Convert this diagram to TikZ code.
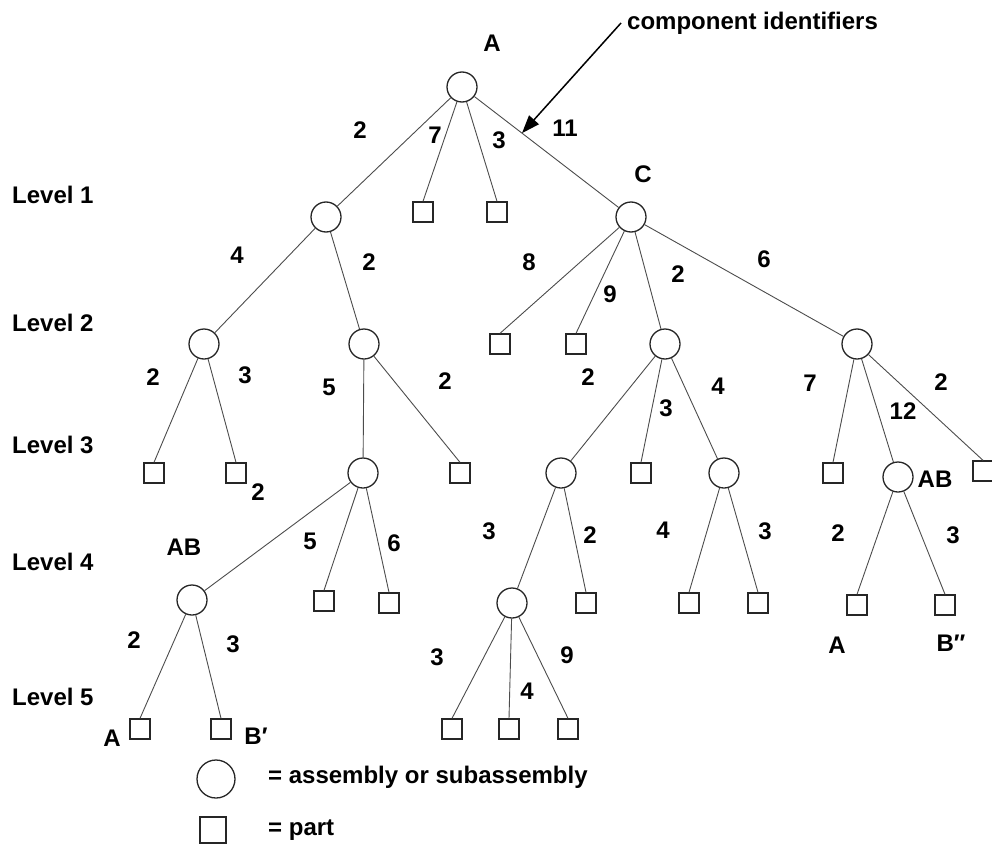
\documentclass[tikz,border=0pt]{standalone}
\usepackage{fontspec}
\setmainfont{Liberation Sans}
\usetikzlibrary{arrows.meta,calc}
\begin{document}
\begin{tikzpicture}[x=1pt,y=-1pt,
  lab/.style={font=\bfseries\fontsize{24}{27}\selectfont, inner sep=0pt},
  asm/.style={circle, draw=black!85, line width=1.3pt, minimum size=30pt, inner sep=0pt},
  prt/.style={rectangle, draw=black!85, line width=1.3pt, minimum size=20pt, inner sep=0pt},
  edge/.style={draw=black!70, line width=0.9pt}]
\useasboundingbox (0,0) rectangle (992,848);
% level labels
\node[lab, anchor=west] (lv1) at (12,195) {Level 1};
\node[lab, anchor=west] (lv2) at (12,323) {Level 2};
\node[lab, anchor=west] (lv3) at (12,445) {Level 3};
\node[lab, anchor=west] (lv4) at (12,562) {Level 4};
\node[lab, anchor=west] (lv5) at (12,697) {Level 5};
% level 0/1
\node[asm] (A) at (462,87) {};
\node[lab] (tA) at (492,43) {A};
\node[asm] (L1a) at (326,217) {};
\node[prt] (p1) at (423,212) {};
\node[prt] (p2) at (497,212) {};
\node[asm] (C) at (631,217) {};
\node[lab] (tC) at (643,174) {C};
\draw[edge] (A) -- (L1a);
\draw[edge] (A) -- (p1.north);
\draw[edge] (A) -- (p2.north);
\draw[edge] (A) -- (C);
\node[lab] (e1) at (360,130) {2};
\node[lab] (e2) at (435,135) {7};
\node[lab] (e3) at (499,140) {3};
\node[lab] (e4) at (565,128) {11};
% level 2
\node[asm] (L2a) at (204,344) {};
\node[asm] (L2b) at (364,344) {};
\draw[edge] (L1a) -- (L2a);
\draw[edge] (L1a) -- (L2b);
\node[lab] (e5) at (237,255) {4};
\node[lab] (e6) at (369,262) {2};
\node[prt] (p3) at (500,344) {};
\node[prt] (p4) at (576,344) {};
\node[asm] (L2c) at (665,344) {};
\node[asm] (L2d) at (857,344) {};
\draw[edge] (C) -- (p3.north);
\draw[edge] (C) -- (p4.north);
\draw[edge] (C) -- (L2c);
\draw[edge] (C) -- (L2d);
\node[lab] (e7) at (529,262) {8};
\node[lab] (e8) at (610,294) {9};
\node[lab] (e9) at (678,274) {2};
\node[lab] (e10) at (764,259) {6};
% level 3
\node[prt] (p5) at (154,473) {};
\node[prt] (p6) at (236,473) {};
\draw[edge] (L2a) -- (p5.north);
\draw[edge] (L2a) -- (p6.north);
\node[lab] (e11) at (153,377) {2};
\node[lab] (e12) at (245,375) {3};
\node[lab] (e13) at (258,492) {2};
\node[asm] (L3a) at (363,473) {};
\node[prt] (p7) at (460,473) {};
\draw[edge] (L2b) -- (L3a);
\draw[edge] (L2b) -- (p7.north);
\node[lab] (e14) at (329,387) {5};
\node[lab] (e15) at (445,381) {2};
\node[asm] (L3b) at (561,473) {};
\node[prt] (p8) at (641,473) {};
\node[asm] (L3c) at (724,473) {};
\draw[edge] (L2c) -- (L3b);
\draw[edge] (L2c) -- (p8.north);
\draw[edge] (L2c) -- (L3c);
\node[lab] (e16) at (588,377) {2};
\node[lab] (e17) at (666,408) {3};
\node[lab] (e18) at (718,386) {4};
\node[prt] (p9) at (833,473) {};
\node[asm] (L3d) at (898,477) {};
\node[prt] (p10) at (983,471) {};
\draw[edge] (L2d) -- (p9.north);
\draw[edge] (L2d) -- (L3d);
\draw[edge] (L2d) -- (p10.north);
\node[lab] (e19) at (810,383) {7};
\node[lab] (e20) at (903,411) {12};
\node[lab] (e21) at (941,382) {2};
\node[lab] (tAB2) at (935,479) {AB};
% level 4
\node[asm] (L4a) at (192,600) {};
\node[prt] (p11) at (324,601) {};
\node[prt] (p12) at (389,603) {};
\draw[edge] (L3a) -- (L4a);
\draw[edge] (L3a) -- (p11.north);
\draw[edge] (L3a) -- (p12.north);
\node[lab] (tAB1) at (184,547) {AB};
\node[lab] (e22) at (310,541) {5};
\node[lab] (e23) at (394,543) {6};
\node[asm] (L4b) at (512,603) {};
\node[prt] (p13) at (586,603) {};
\draw[edge] (L3b) -- (L4b);
\draw[edge] (L3b) -- (p13.north);
\node[lab] (e24) at (489,531) {3};
\node[lab] (e25) at (590,535) {2};
\node[prt] (p14) at (689,603) {};
\node[prt] (p15) at (758,603) {};
\draw[edge] (L3c) -- (p14.north);
\draw[edge] (L3c) -- (p15.north);
\node[lab] (e26) at (663,530) {4};
\node[lab] (e27) at (765,531) {3};
\node[prt] (p16) at (857,605) {};
\node[prt] (p17) at (945,605) {};
\draw[edge] (L3d) -- (p16.north);
\draw[edge] (L3d) -- (p17.north);
\node[lab] (e28) at (838,533) {2};
\node[lab] (e29) at (953,535) {3};
\node[lab] (tA3) at (837,645) {A};
\node[lab] (tB3) at (951,643) {B″};
% level 5
\node[prt] (p18) at (140,729) {};
\node[prt] (p19) at (221,729) {};
\draw[edge] (L4a) -- (p18.north);
\draw[edge] (L4a) -- (p19.north);
\node[lab] (e30) at (134,640) {2};
\node[lab] (e31) at (233,644) {3};
\node[lab] (tA2) at (112,738) {A};
\node[lab] (tB2) at (256,736) {B′};
\node[prt] (p20) at (452,729) {};
\node[prt] (p21) at (509,729) {};
\node[prt] (p22) at (568,729) {};
\draw[edge] (L4b) -- (p20.north);
\draw[edge] (L4b) -- (p21.north);
\draw[edge] (L4b) -- (p22.north);
\node[lab] (e32) at (437,657) {3};
\node[lab] (e33) at (527,691) {4};
\node[lab] (e34) at (567,655) {9};
% annotation
\node[lab, anchor=west] (ci) at (627,23) {component identifiers};
\coordinate (tip) at ($(A)!0.355!(C)$);
\coordinate (tail) at (621,23);
\draw[line width=1.5pt, -{Triangle[length=18pt,width=13pt]}] (tail) -- (tip);
% legend
\node[circle, draw=black!85, line width=1.3pt, minimum size=38pt, inner sep=0pt] (legc) at (216,779) {};
\node[lab, anchor=west] (legct) at (268,777) {= assembly or subassembly};
\node[rectangle, draw=black!85, line width=1.3pt, minimum size=26pt, inner sep=0pt] (legs) at (213,830) {};
\node[lab, anchor=west] (legst) at (268,830) {= part};
\end{tikzpicture}
\end{document}
